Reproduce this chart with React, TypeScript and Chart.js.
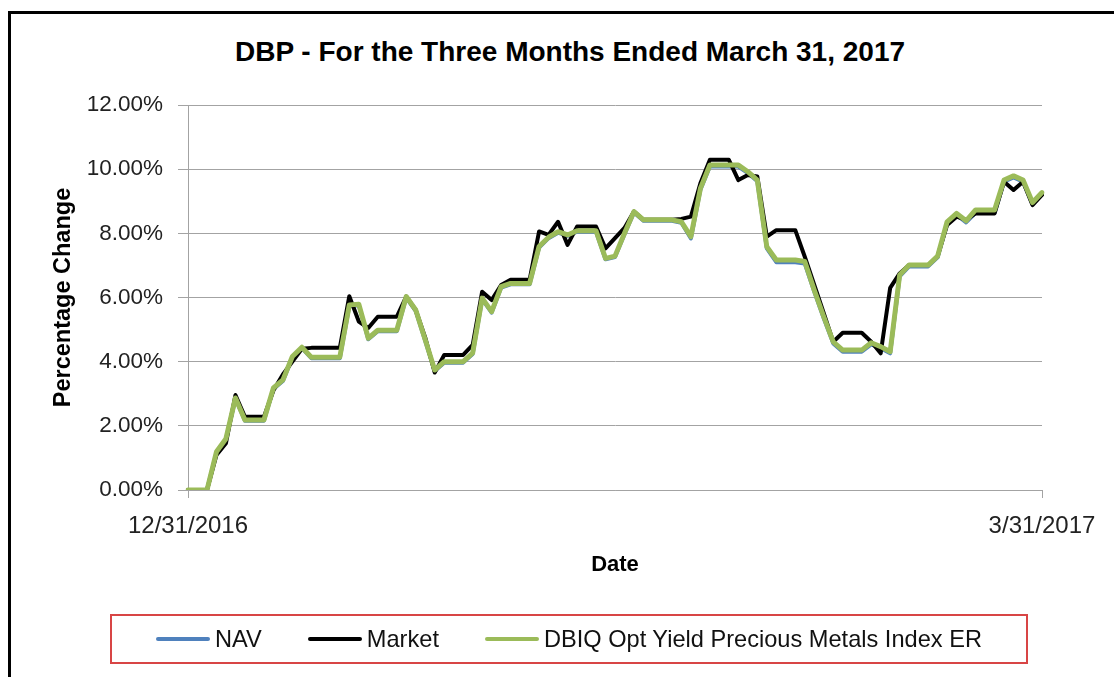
import React, { useEffect, useRef } from 'react';
import { Chart, registerables } from 'chart.js';

Chart.register(...registerables);

const chartTitle = 'DBP - For the Three Months Ended March 31, 2017';
const xAxisTitle = 'Date';
const yAxisTitle = 'Percentage Change';

const dates = [
  '12/31/2016',
  '1/1/2017', '1/2/2017', '1/3/2017', '1/4/2017', '1/5/2017', '1/6/2017', '1/7/2017', '1/8/2017', '1/9/2017', '1/10/2017',
  '1/11/2017', '1/12/2017', '1/13/2017', '1/14/2017', '1/15/2017', '1/16/2017', '1/17/2017', '1/18/2017', '1/19/2017', '1/20/2017',
  '1/21/2017', '1/22/2017', '1/23/2017', '1/24/2017', '1/25/2017', '1/26/2017', '1/27/2017', '1/28/2017', '1/29/2017', '1/30/2017', '1/31/2017',
  '2/1/2017', '2/2/2017', '2/3/2017', '2/4/2017', '2/5/2017', '2/6/2017', '2/7/2017', '2/8/2017', '2/9/2017', '2/10/2017',
  '2/11/2017', '2/12/2017', '2/13/2017', '2/14/2017', '2/15/2017', '2/16/2017', '2/17/2017', '2/18/2017', '2/19/2017', '2/20/2017',
  '2/21/2017', '2/22/2017', '2/23/2017', '2/24/2017', '2/25/2017', '2/26/2017', '2/27/2017', '2/28/2017',
  '3/1/2017', '3/2/2017', '3/3/2017', '3/4/2017', '3/5/2017', '3/6/2017', '3/7/2017', '3/8/2017', '3/9/2017', '3/10/2017',
  '3/11/2017', '3/12/2017', '3/13/2017', '3/14/2017', '3/15/2017', '3/16/2017', '3/17/2017', '3/18/2017', '3/19/2017', '3/20/2017',
  '3/21/2017', '3/22/2017', '3/23/2017', '3/24/2017', '3/25/2017', '3/26/2017', '3/27/2017', '3/28/2017', '3/29/2017', '3/30/2017', '3/31/2017',
];

const navValues = [
  0, 0, 0, 1.17, 1.58, 2.85, 2.16, 2.16, 2.16,
  3.15, 3.40, 4.13, 4.42, 4.11, 4.11, 4.11,
  4.11, 5.74, 5.76, 4.70, 4.95, 4.95, 4.95,
  6.00, 5.58, 4.65, 3.71, 3.97, 3.97, 3.97,
  4.24, 5.95, 5.53, 6.31, 6.41, 6.41, 6.41,
  7.56, 7.85, 8.02, 7.92, 8.05, 8.05, 8.05,
  7.19, 7.26, 7.97, 8.65, 8.39, 8.39, 8.39,
  8.39, 8.33, 7.84, 9.36, 10.08, 10.08, 10.08,
  10.08, 9.88, 9.62, 7.53, 7.10, 7.10, 7.10,
  7.06, 6.18, 5.35, 4.57, 4.31, 4.31, 4.31,
  4.54, 4.42, 4.26, 6.66, 6.97, 6.97, 6.97,
  7.25, 8.31, 8.57, 8.34, 8.64, 8.64, 8.64,
  9.61, 9.74, 9.61, 8.91, 9.22,
];

const marketValues = [
  0, 0, 0, 1.09, 1.46, 2.96, 2.28, 2.28, 2.28,
  3.10, 3.60, 4.00, 4.40, 4.43, 4.43, 4.43,
  4.43, 6.04, 5.25, 5.05, 5.40, 5.40, 5.40,
  6.03, 5.61, 4.75, 3.66, 4.21, 4.21, 4.21,
  4.52, 6.18, 5.92, 6.39, 6.55, 6.55, 6.55,
  8.06, 7.95, 8.36, 7.64, 8.21, 8.21, 8.21,
  7.53, 7.85, 8.17, 8.68, 8.42, 8.42, 8.42,
  8.42, 8.45, 8.52, 9.56, 10.29, 10.29, 10.29,
  9.66, 9.82, 9.77, 7.90, 8.10, 8.10, 8.10,
  7.27, 6.39, 5.51, 4.62, 4.90, 4.90, 4.90,
  4.62, 4.26, 6.30, 6.75, 7.01, 7.01, 7.01,
  7.29, 8.26, 8.52, 8.42, 8.62, 8.62, 8.62,
  9.61, 9.35, 9.61, 8.88, 9.20,
];

const indexValues = [
  0, 0, 0, 1.19, 1.60, 2.87, 2.18, 2.18, 2.18,
  3.18, 3.43, 4.16, 4.45, 4.14, 4.14, 4.14,
  4.14, 5.77, 5.79, 4.73, 4.98, 4.98, 4.98,
  6.03, 5.61, 4.68, 3.74, 4.00, 4.00, 4.00,
  4.27, 5.98, 5.56, 6.34, 6.44, 6.44, 6.44,
  7.59, 7.88, 8.05, 7.95, 8.08, 8.08, 8.08,
  7.22, 7.29, 8.00, 8.68, 8.42, 8.42, 8.42,
  8.42, 8.36, 7.90, 9.40, 10.13, 10.13, 10.13,
  10.13, 9.92, 9.66, 7.58, 7.17, 7.17, 7.17,
  7.12, 6.23, 5.40, 4.62, 4.36, 4.36, 4.36,
  4.59, 4.47, 4.31, 6.70, 7.01, 7.01, 7.01,
  7.29, 8.36, 8.62, 8.39, 8.73, 8.73, 8.73,
  9.66, 9.79, 9.66, 8.96, 9.27,
];

const seriesNames = ['NAV', 'Market', 'DBIQ Opt Yield Precious Metals Index ER'];
const seriesColors = ['#4F81BD', '#000000', '#9BBB59'];
const seriesWidths = [4, 4, 5];
const seriesValues = [navValues, marketValues, indexValues];

const yMin = 0;
const yMax = 12;
const yStep = 2;

const GRID = '#a3a3a3';
const FONT = '"Liberation Sans", Arial, sans-serif';

export default function App() {
  const canvasRef = useRef<HTMLCanvasElement | null>(null);

  useEffect(() => {
    const canvas = canvasRef.current;
    if (!canvas) return;
    const lastIdx = dates.length - 1;
    const chart = new Chart(canvas, {
      type: 'line',
      data: {
        labels: dates,
        datasets: seriesNames.map((name, i) => ({
          label: name,
          data: seriesValues[i],
          borderColor: seriesColors[i],
          backgroundColor: seriesColors[i],
          borderWidth: seriesWidths[i],
          pointRadius: 0,
          tension: 0,
          fill: false,
          borderJoinStyle: 'round' as const,
          borderCapStyle: 'round' as const,
          order: seriesNames.length - i,
        })),
      },
      options: {
        animation: false,
        responsive: false,
        events: [],
        layout: { padding: { left: 44, right: 72, top: 105, bottom: 87 } },
        plugins: {
          legend: { display: false },
          title: { display: false },
          tooltip: { enabled: false },
        },
        scales: {
          x: {
            type: 'category',
            offset: false,
            afterFit: (s: any) => { s.height = 100; },
            border: { display: true, color: GRID, width: 1 },
            grid: {
              drawOnChartArea: false,
              drawTicks: true,
              tickLength: 8,
              color: (ctx: any) => (ctx.index === 0 || ctx.index === lastIdx ? GRID : 'rgba(0,0,0,0)'),
            },
            ticks: {
              autoSkip: false,
              maxRotation: 0,
              minRotation: 0,
              padding: 14,
              color: '#222',
              font: { family: FONT, size: 24 },
              callback: (_v: any, i: number) => (i === 0 || i === lastIdx ? dates[i] : ''),
            },
            title: {
              display: true,
              text: xAxisTitle,
              color: '#000',
              font: { family: FONT, size: 22, weight: 'bold' },
              padding: { top: 0, bottom: 12 },
            },
          },
          y: {
            min: yMin,
            max: yMax,
            afterFit: (s: any) => { s.width = 144; },
            border: { display: true, color: GRID, width: 1 },
            grid: { color: GRID, lineWidth: 1, tickLength: 10 },
            ticks: {
              stepSize: yStep,
              padding: 15,
              color: '#222',
              font: { family: FONT, size: 22.5 },
              callback: (v: any) => Number(v).toFixed(2) + '%',
            },
            title: {
              display: true,
              text: yAxisTitle,
              color: '#000',
              font: { family: FONT, size: 23.5, weight: 'bold' },
              padding: { top: 5, bottom: 0 },
            },
          },
        },
      },
    });
    return () => chart.destroy();
  }, []);

  return (
    <div style={{ position: 'fixed', left: 0, top: 0, width: 1114, height: 677, background: '#fff', overflow: 'hidden' }}>
      <div style={{ position: 'absolute', left: 8, top: 11, width: 1120, height: 700, borderLeft: '3px solid #000', borderTop: '3px solid #000' }} />
      <div style={{ position: 'absolute', left: 0, top: 36, width: 1140, textAlign: 'center', font: `bold 28px ${FONT}`, lineHeight: '32px', color: '#000', whiteSpace: 'nowrap' }}>
        {chartTitle}
      </div>
      <canvas ref={canvasRef} width={1114} height={677} style={{ position: 'absolute', left: 0, top: 0, width: 1114, height: 677 }} />
      <div style={{ position: 'absolute', left: 110, top: 614, width: 914, height: 46, border: '2px solid #d84545', display: 'flex', alignItems: 'center', justifyContent: 'center', boxSizing: 'content-box' }}>
        {seriesNames.map((name, i) => (
          <div key={name} style={{ display: 'flex', alignItems: 'center', marginLeft: i === 0 ? 0 : 46 }}>
            <div style={{ width: 54, height: 4, background: seriesColors[i], borderRadius: 2, marginRight: 5 }} />
            <span style={{ font: `23.6px ${FONT}`, color: '#111', whiteSpace: 'nowrap' }}>{name}</span>
          </div>
        ))}
      </div>
    </div>
  );
}
